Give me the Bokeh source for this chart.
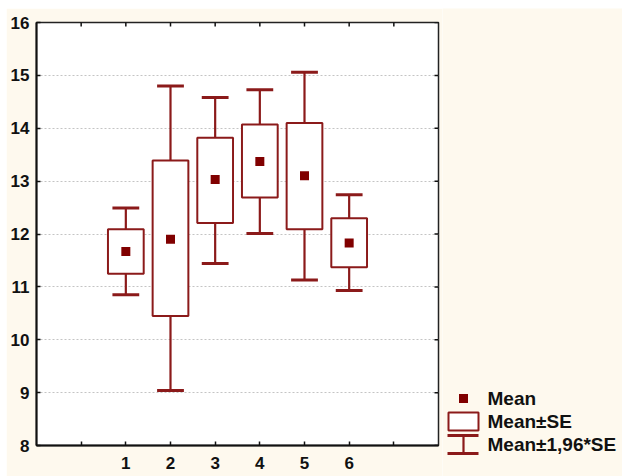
import math
from bokeh.plotting import figure
from bokeh.models import Range1d, FixedTicker, ColumnDataSource
from bokeh.layouts import row
from bokeh.core.properties import value
from bokeh.embed import file_html
from bokeh.resources import INLINE

# ---- data ----
groups = [1, 2, 3, 4, 5, 6]
means = [11.67, 11.90, 13.03, 13.37, 13.10, 11.83]
se_low = [11.25, 10.45, 12.21, 12.69, 12.09, 11.37]
se_high = [12.09, 13.39, 13.82, 14.07, 14.10, 12.30]
ci_low = [10.85, 9.04, 11.44, 12.01, 11.13, 10.93]
ci_high = [12.49, 14.80, 14.58, 14.73, 15.06, 12.74]
x_ticks = [0, 1, 2, 3, 4, 5, 6, 7]
y_ticks = [8, 9, 10, 11, 12, 13, 14, 15, 16]
legend_labels = ["Mean", "Mean±SE", "Mean±1,96*SE"]

# ---- styling ----
CREAM = "#fef9ee"
RED = "#8b1a1a"
MARK = "#800000"
FONT = "Liberation Sans"
BOX_HALF = 0.4
CAP_HALF = 0.3
X0, X1, Y0, Y1 = -1, 8, 8, 16

src = ColumnDataSource(dict(
    x=groups,
    left=[g - BOX_HALF for g in groups],
    right=[g + BOX_HALF for g in groups],
    cap_l=[g - CAP_HALF for g in groups],
    cap_r=[g + CAP_HALF for g in groups],
    mean=means, se_low=se_low, se_high=se_high, ci_low=ci_low, ci_high=ci_high,
))

p = figure(width=436, height=468, x_range=Range1d(X0, X1), y_range=Range1d(Y0, Y1),
           output_backend="svg", toolbar_location=None, title=None,
           min_border_left=30, min_border_right=4, min_border_top=14, min_border_bottom=31,
           background_fill_color="white", border_fill_color=CREAM)
p.frame_align = False
p.outline_line_color = "#222222"
p.outline_line_width = 1.5

# boxes (Mean±SE)
p.quad(left="left", right="right", bottom="se_low", top="se_high", source=src,
       fill_color="white", line_color=RED, line_width=2)
# whisker stems
p.segment(x0="x", x1="x", y0="se_high", y1="ci_high", source=src, line_color=RED, line_width=2.2)
p.segment(x0="x", x1="x", y0="ci_low", y1="se_low", source=src, line_color=RED, line_width=2.2)
# caps
p.segment(x0="cap_l", x1="cap_r", y0="ci_high", y1="ci_high", source=src, line_color=RED, line_width=3)
p.segment(x0="cap_l", x1="cap_r", y0="ci_low", y1="ci_low", source=src, line_color=RED, line_width=3)
# means
p.scatter(x="x", y="mean", source=src, marker="square", size=9, fill_color=MARK, line_color=None)

# inward ticks on top and right frame edges (half of each dash is clipped)
p.scatter(x=x_ticks, y=[Y1] * len(x_ticks), marker="dash", angle=math.pi / 2, size=8,
          line_color="#111111", line_width=1.5)
p.scatter(x=[X1] * len(y_ticks), y=y_ticks, marker="dash", size=8,
          line_color="#111111", line_width=1.5)

def style_axis(ax):
    ax.major_tick_in = 4
    ax.major_tick_out = 0
    ax.minor_tick_line_color = None
    ax.axis_line_color = "#111111"
    ax.axis_line_width = 2
    ax.major_tick_line_color = "#111111"
    ax.major_tick_line_width = 1.5
    ax.major_label_text_font = FONT
    ax.major_label_text_font_style = "bold"
    ax.major_label_text_color = "#111111"
    ax.major_label_text_font_size = "17px"

xa = p.xaxis[0]
xa.ticker = FixedTicker(ticks=x_ticks)
xa.major_label_overrides = {0: "", 7: ""}
style_axis(xa)
xa.major_label_standoff = 11

ya = p.yaxis[0]
ya.ticker = FixedTicker(ticks=y_ticks)
style_axis(ya)
ya.major_label_standoff = 7

p.xgrid.visible = False
p.ygrid.grid_line_color = "#c4c4c4"
p.ygrid.grid_line_dash = "2 2"
p.ygrid.grid_line_width = 1

# ---- legend panel (pixel coordinates inside its own figure) ----
LW, LH = 180, 468
lg = figure(width=LW, height=LH, x_range=Range1d(0, LW), y_range=Range1d(LH, 0),
            output_backend="svg", toolbar_location=None, x_axis_type=None, y_axis_type=None,
            title=None, min_border_left=0, min_border_right=0, min_border_top=0,
            min_border_bottom=0, background_fill_color=CREAM, border_fill_color=CREAM)
lg.frame_align = False
lg.outline_line_color = None
lg.xgrid.visible = False
lg.ygrid.visible = False

row_y = [390, 413, 436]
sym_x = 21
lg.scatter(x=[sym_x], y=[row_y[0]], marker="square", size=9, fill_color=MARK, line_color=None)
lg.quad(left=[6], right=[36], top=[row_y[1] - 9], bottom=[row_y[1] + 9],
        fill_color="white", line_color=RED, line_width=2)
lg.segment(x0=[5, 5, sym_x], x1=[36, 36, sym_x],
           y0=[row_y[2] - 9, row_y[2] + 9, row_y[2] - 9],
           y1=[row_y[2] - 9, row_y[2] + 9, row_y[2] + 9],
           line_color=RED, line_width=[3, 3, 2.2])
lg.text(x=[45] * 3, y=row_y, text=legend_labels, text_font=value(FONT),
        text_font_style="bold", text_font_size="19px", text_color="#111111",
        text_baseline="middle", text_align="left")

layout = row(p, lg, spacing=0, margin=(8, 0, 0, 6))
open("out.html", "w").write(file_html(layout, INLINE))
